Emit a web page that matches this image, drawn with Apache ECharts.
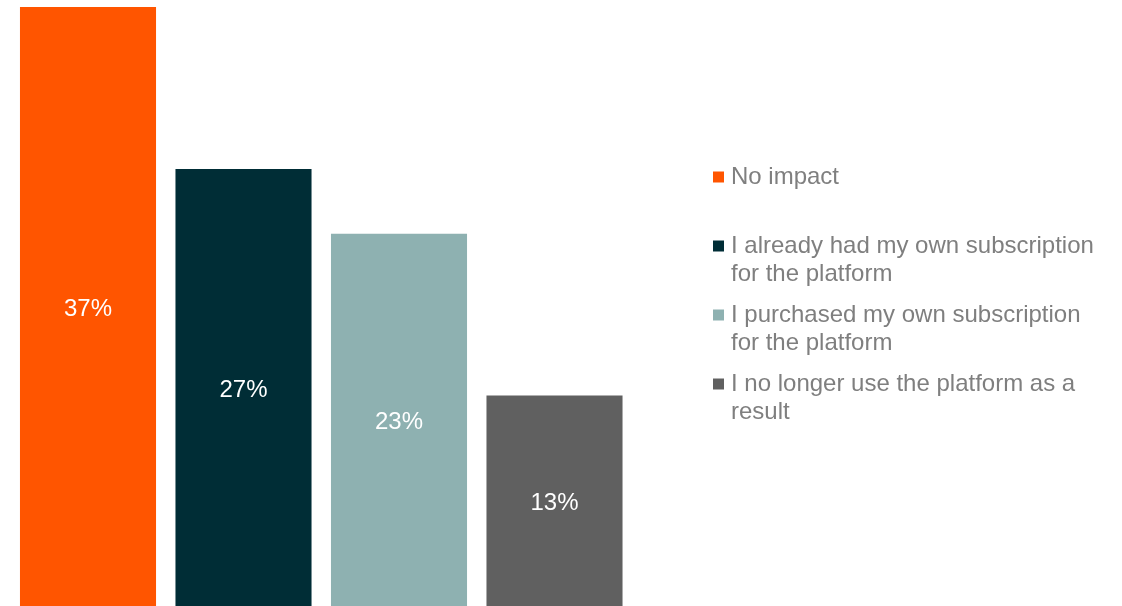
<!DOCTYPE html>
<html>
<head>
<meta charset="utf-8">
<script src="https://cdn.jsdelivr.net/npm/echarts@6/dist/echarts.min.js"></script>
<style>
  html, body { margin: 0; padding: 0; background: #ffffff; }
  #chart { width: 1122px; height: 606px; }
</style>
</head>
<body>
<div id="chart"></div>
<script>
// Survey answers, one bar each
const categories = ['No impact', 'I already had my own subscription for the platform', 'I purchased my own subscription for the platform', 'I no longer use the platform as a result'];
const values = [37, 27, 23, 13];
const colors = ['#FF5500', '#002D36', '#8EB1B1', '#606060'];
// Legend lines, wrapped the way they are shown
const legendLines = [
  ['No impact', ''],
  ['I already had my own subscription', 'for the platform'],
  ['I purchased my own subscription', 'for the platform'],
  ['I no longer use the platform as a', 'result']
];

const FONT = '"Liberation Sans", Arial, sans-serif';

const series = categories.map(function (name, i) {
  const data = categories.map(function (_, j) { return j === i ? values[i] : '-'; });
  return {
    name: name,
    type: 'bar',
    stack: 'all',
    barCategoryGap: '12.5%',
    data: data,
    itemStyle: { color: colors[i] },
    label: {
      show: true,
      position: 'inside',
      offset: [0, 3],
      color: '#ffffff',
      fontFamily: FONT,
      fontSize: 24,
      formatter: function (p) { return p.value + '%'; }
    }
  };
});

const rich = {
  g: { width: 7 },
  s: { width: 18 },
  t: { color: '#7F7F7F', fontFamily: FONT, fontSize: 24, lineHeight: 28 }
};
colors.forEach(function (c, i) {
  rich['m' + i] = { width: 11, height: 11, backgroundColor: c };
});

const chart = echarts.init(document.getElementById('chart'), null, { renderer: 'canvas' });
chart.setOption({
  animation: false,
  grid: { left: 10.25, width: 622, top: 7, bottom: 0 },
  xAxis: { type: 'category', data: categories, show: false },
  yAxis: { type: 'value', min: 0, max: 37, show: false },
  legend: {
    orient: 'vertical',
    left: 703,
    top: 158,
    itemGap: 13,
    itemWidth: 0,
    itemHeight: 0,
    icon: 'rect',
    data: categories,
    selectedMode: false,
    textStyle: { lineHeight: 28, fontFamily: FONT, fontSize: 24, color: '#7F7F7F', rich: rich },
    formatter: function (name) {
      const i = categories.indexOf(name);
      const l = legendLines[i];
      return '{m' + i + '|}{g|}{t|' + l[0] + '}\n{s|}{t|' + (l[1] || ' ') + '}';
    }
  },
  series: series
});
</script>
</body>
</html>
